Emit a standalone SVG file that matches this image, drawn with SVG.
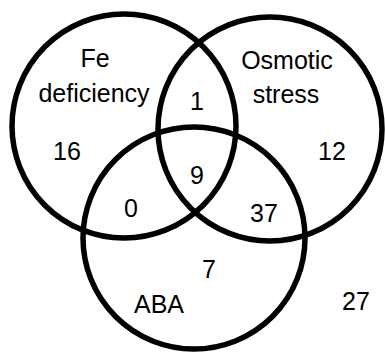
<svg xmlns="http://www.w3.org/2000/svg" width="385" height="352" viewBox="0 0 385 352">
<style>
.c{fill:none;stroke:#000;stroke-width:5.5}
.t{font-family:"Liberation Sans",Arial,sans-serif;font-size:25px;fill:#000;text-anchor:middle}
</style>
<rect width="385" height="352" fill="#fff"/>
<g id="circles">
<g id="fe"><circle class="c" cx="124" cy="126" r="112"/></g>
<g id="osmotic"><circle class="c" cx="270" cy="129" r="112"/></g>
<g id="aba"><circle class="c" cx="194" cy="238" r="111"/></g>
</g>
<g id="labels">
<text class="t" x="95" y="67">Fe</text>
<text class="t" x="94" y="102">deficiency</text>
<text class="t" x="287" y="69">Osmotic</text>
<text class="t" x="286" y="103">stress</text>
<text class="t" x="159" y="313">ABA</text>
</g>
<g id="counts">
<text class="t" x="67" y="160">16</text>
<text class="t" x="197" y="110">1</text>
<text class="t" x="332" y="160">12</text>
<text class="t" x="197" y="184">9</text>
<text class="t" x="131" y="217">0</text>
<text class="t" x="264" y="222">37</text>
<text class="t" x="209" y="278">7</text>
<text class="t" x="356" y="310">27</text>
</g>
</svg>
